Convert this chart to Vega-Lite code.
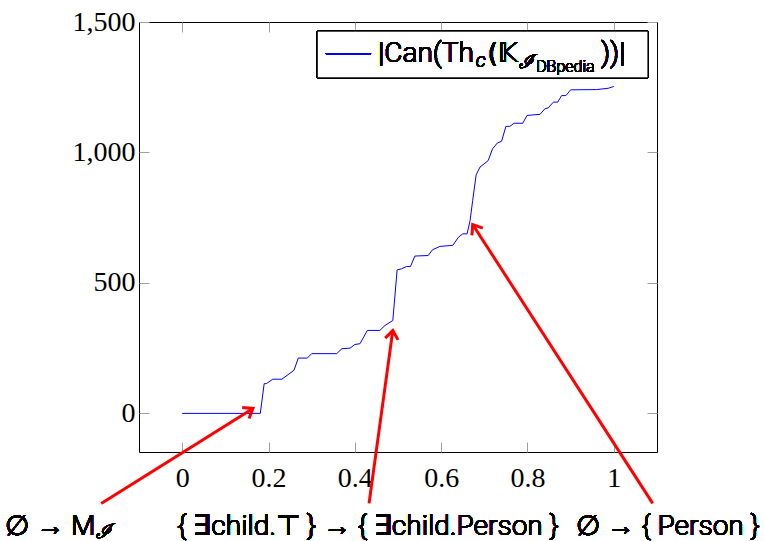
{
  "$schema": "https://vega.github.io/schema/vega-lite/v6.json",
  "width": 518,
  "height": 430,
  "autosize": "none",
  "padding": {"left": 139, "top": 22, "right": 107, "bottom": 89},
  "background": "white",
  "config": {
    "view": {"stroke": "#000000", "strokeWidth": 1},
    "text": {"font": "Roboto", "fontWeight": 300, "color": "#000000"},
    "axis": {
      "domain": false,
      "grid": false,
      "tickColor": "#a0a0a0",
      "tickWidth": 1,
      "tickSize": -10,
      "labelFont": "Liberation Serif",
      "labelFontSize": 28,
      "labelColor": "#000000",
      "title": null
    }
  },
  "data": {
    "values": [
      {"x": 0, "y": 0}, {"x": 0.181, "y": 0}, {"x": 0.19, "y": 114}, {"x": 0.195, "y": 114},
      {"x": 0.21, "y": 131}, {"x": 0.231, "y": 131}, {"x": 0.259, "y": 165}, {"x": 0.269, "y": 212},
      {"x": 0.29, "y": 212}, {"x": 0.3, "y": 229}, {"x": 0.358, "y": 229}, {"x": 0.37, "y": 248},
      {"x": 0.389, "y": 250}, {"x": 0.4, "y": 264}, {"x": 0.412, "y": 267}, {"x": 0.429, "y": 318},
      {"x": 0.458, "y": 318}, {"x": 0.47, "y": 337}, {"x": 0.488, "y": 356}, {"x": 0.498, "y": 550},
      {"x": 0.508, "y": 554}, {"x": 0.52, "y": 563}, {"x": 0.529, "y": 563}, {"x": 0.539, "y": 603},
      {"x": 0.57, "y": 605}, {"x": 0.58, "y": 627}, {"x": 0.597, "y": 640}, {"x": 0.627, "y": 644},
      {"x": 0.64, "y": 675}, {"x": 0.65, "y": 688}, {"x": 0.66, "y": 688}, {"x": 0.667, "y": 739},
      {"x": 0.673, "y": 816}, {"x": 0.681, "y": 914}, {"x": 0.69, "y": 944}, {"x": 0.709, "y": 969},
      {"x": 0.719, "y": 1014}, {"x": 0.73, "y": 1036}, {"x": 0.74, "y": 1043}, {"x": 0.75, "y": 1100},
      {"x": 0.759, "y": 1100}, {"x": 0.769, "y": 1112}, {"x": 0.789, "y": 1112}, {"x": 0.799, "y": 1142},
      {"x": 0.829, "y": 1146}, {"x": 0.84, "y": 1167}, {"x": 0.848, "y": 1171}, {"x": 0.86, "y": 1193},
      {"x": 0.87, "y": 1193}, {"x": 0.879, "y": 1218}, {"x": 0.889, "y": 1218}, {"x": 0.9, "y": 1240},
      {"x": 0.96, "y": 1241}, {"x": 0.987, "y": 1246}, {"x": 1.0, "y": 1253}
    ]
  },
  "layer": [
    {
      "mark": {"type": "line", "color": "#0000ff", "strokeWidth": 1, "interpolate": "linear"},
      "encoding": {
        "x": {"field": "x", "type": "quantitative", "scale": {"domain": [-0.1, 1.1], "nice": false, "zero": false},
              "axis": {"orient": "bottom", "values": [0, 0.2, 0.4, 0.6, 0.8, 1], "format": "~g", "labelPadding": 22}},
        "y": {"field": "y", "type": "quantitative", "scale": {"domain": [-148, 1500], "nice": false, "zero": false},
              "axis": {"orient": "left", "values": [0, 500, 1000, 1500], "format": ",d", "labelPadding": 14}}
      }
    },
    {
      "mark": {"type": "line", "opacity": 0},
      "encoding": {
        "x": {"field": "x", "type": "quantitative", "axis": {"orient": "top", "values": [0, 0.2, 0.4, 0.6, 0.8, 1], "labels": false}},
        "y": {"field": "y", "type": "quantitative", "axis": {"orient": "right", "values": [0, 500, 1000, 1500], "labels": false}}
      }
    },
    {
      "mark": {"type": "rect", "fill": "white", "stroke": "#000000", "strokeWidth": 1},
      "encoding": {
        "x": {"datum": 0.313, "type": "quantitative", "axis": null},
        "x2": {"datum": 1.079},
        "y": {"datum": 1286, "type": "quantitative", "axis": null},
        "y2": {"datum": 1465}
      }
    },
    {
      "mark": {"type": "rule", "color": "#0000ff", "strokeWidth": 1},
      "encoding": {
        "x": {"datum": 0.333, "type": "quantitative", "axis": null},
        "x2": {"datum": 0.4375},
        "y": {"datum": 1379, "type": "quantitative", "axis": null}
      }
    },
    {
      "mark": {"type": "text", "align": "left", "baseline": "alphabetic", "fontSize": 28},
      "encoding": {"x": {"datum": 0.4537, "type": "quantitative", "axis": null}, "y": {"datum": 1345, "type": "quantitative", "axis": null}, "text": {"value": "|Can(Th"}}
    },
    {
      "mark": {"type": "text", "align": "left", "baseline": "alphabetic", "fontStyle": "italic", "fontSize": 20},
      "encoding": {"x": {"datum": 0.68, "type": "quantitative", "axis": null}, "y": {"datum": 1326, "type": "quantitative", "axis": null}, "text": {"value": "c"}}
    },
    {
      "mark": {"type": "text", "align": "left", "baseline": "alphabetic", "font": "DejaVu Sans", "fontWeight": "normal", "fontSize": 26},
      "encoding": {"x": {"datum": 0.708, "type": "quantitative", "axis": null}, "y": {"datum": 1345, "type": "quantitative", "axis": null}, "text": {"value": "(𝕂"}}
    },
    {
      "mark": {"type": "text", "align": "left", "baseline": "alphabetic", "font": "DejaVu Serif", "fontWeight": "normal", "fontStyle": "italic", "fontSize": 19},
      "encoding": {"x": {"datum": 0.78, "type": "quantitative", "axis": null}, "y": {"datum": 1322, "type": "quantitative", "axis": null}, "text": {"value": "ℐ"}}
    },
    {
      "mark": {"type": "text", "align": "left", "baseline": "alphabetic", "fontSize": 16},
      "encoding": {"x": {"datum": 0.82, "type": "quantitative", "axis": null}, "y": {"datum": 1307, "type": "quantitative", "axis": null}, "text": {"value": "DBpedia"}}
    },
    {
      "mark": {"type": "text", "align": "left", "baseline": "alphabetic", "fontSize": 28},
      "encoding": {"x": {"datum": 0.97, "type": "quantitative", "axis": null}, "y": {"datum": 1345, "type": "quantitative", "axis": null}, "text": {"value": "))|"}}
    },
    {
      "data": {"values": [
        {"x0": -0.1875, "y0": -345, "x1": 0.164, "y1": 19},
        {"x0": 0.433, "y0": -345, "x1": 0.488, "y1": 318},
        {"x0": 1.09, "y0": -345, "x1": 0.673, "y1": 724}
      ]},
      "mark": {"type": "rule", "color": "#ff0000", "strokeWidth": 3},
      "encoding": {
        "x": {"field": "x0", "type": "quantitative", "axis": null},
        "x2": {"field": "x1"},
        "y": {"field": "y0", "type": "quantitative", "axis": null},
        "y2": {"field": "y1"}
      }
    },
    {
      "data": {"values": [
        {"x1": 0.164, "y1": 19, "angle": 58},
        {"x1": 0.488, "y1": 318, "angle": 8},
        {"x1": 0.673, "y1": 724, "angle": 327}
      ]},
      "mark": {"type": "point", "shape": "M-0.75,1L0,0L0.75,1", "filled": false, "stroke": "#ff0000", "strokeWidth": 3, "size": 300, "opacity": 1},
      "encoding": {
        "x": {"field": "x1", "type": "quantitative", "axis": null},
        "y": {"field": "y1", "type": "quantitative", "axis": null},
        "angle": {"field": "angle", "type": "quantitative", "scale": null}
      }
    },
    {
      "mark": {"type": "text", "align": "left", "baseline": "alphabetic", "fontSize": 28},
      "encoding": {"x": {"datum": -0.4097, "type": "quantitative", "axis": null}, "y": {"datum": -466, "type": "quantitative", "axis": null}, "text": {"value": "∅ → M"}}
    },
    {
      "mark": {"type": "text", "align": "left", "baseline": "alphabetic", "font": "DejaVu Serif", "fontWeight": "normal", "fontStyle": "italic", "fontSize": 20},
      "encoding": {"x": {"datum": -0.199, "type": "quantitative", "axis": null}, "y": {"datum": -476, "type": "quantitative", "axis": null}, "text": {"value": "ℐ"}}
    },
    {
      "mark": {"type": "text", "align": "center", "baseline": "alphabetic", "fontSize": 28},
      "encoding": {"x": {"datum": 0.4306, "type": "quantitative", "axis": null}, "y": {"datum": -466, "type": "quantitative", "axis": null}, "text": {"value": "{ ∃child.⊤ } → { ∃child.Person }"}}
    },
    {
      "mark": {"type": "text", "align": "center", "baseline": "alphabetic", "fontSize": 28},
      "encoding": {"x": {"datum": 1.125, "type": "quantitative", "axis": null}, "y": {"datum": -466, "type": "quantitative", "axis": null}, "text": {"value": "∅ → { Person }"}}
    }
  ],
  "resolve": {"axis": {"x": "independent", "y": "independent"}}
}
